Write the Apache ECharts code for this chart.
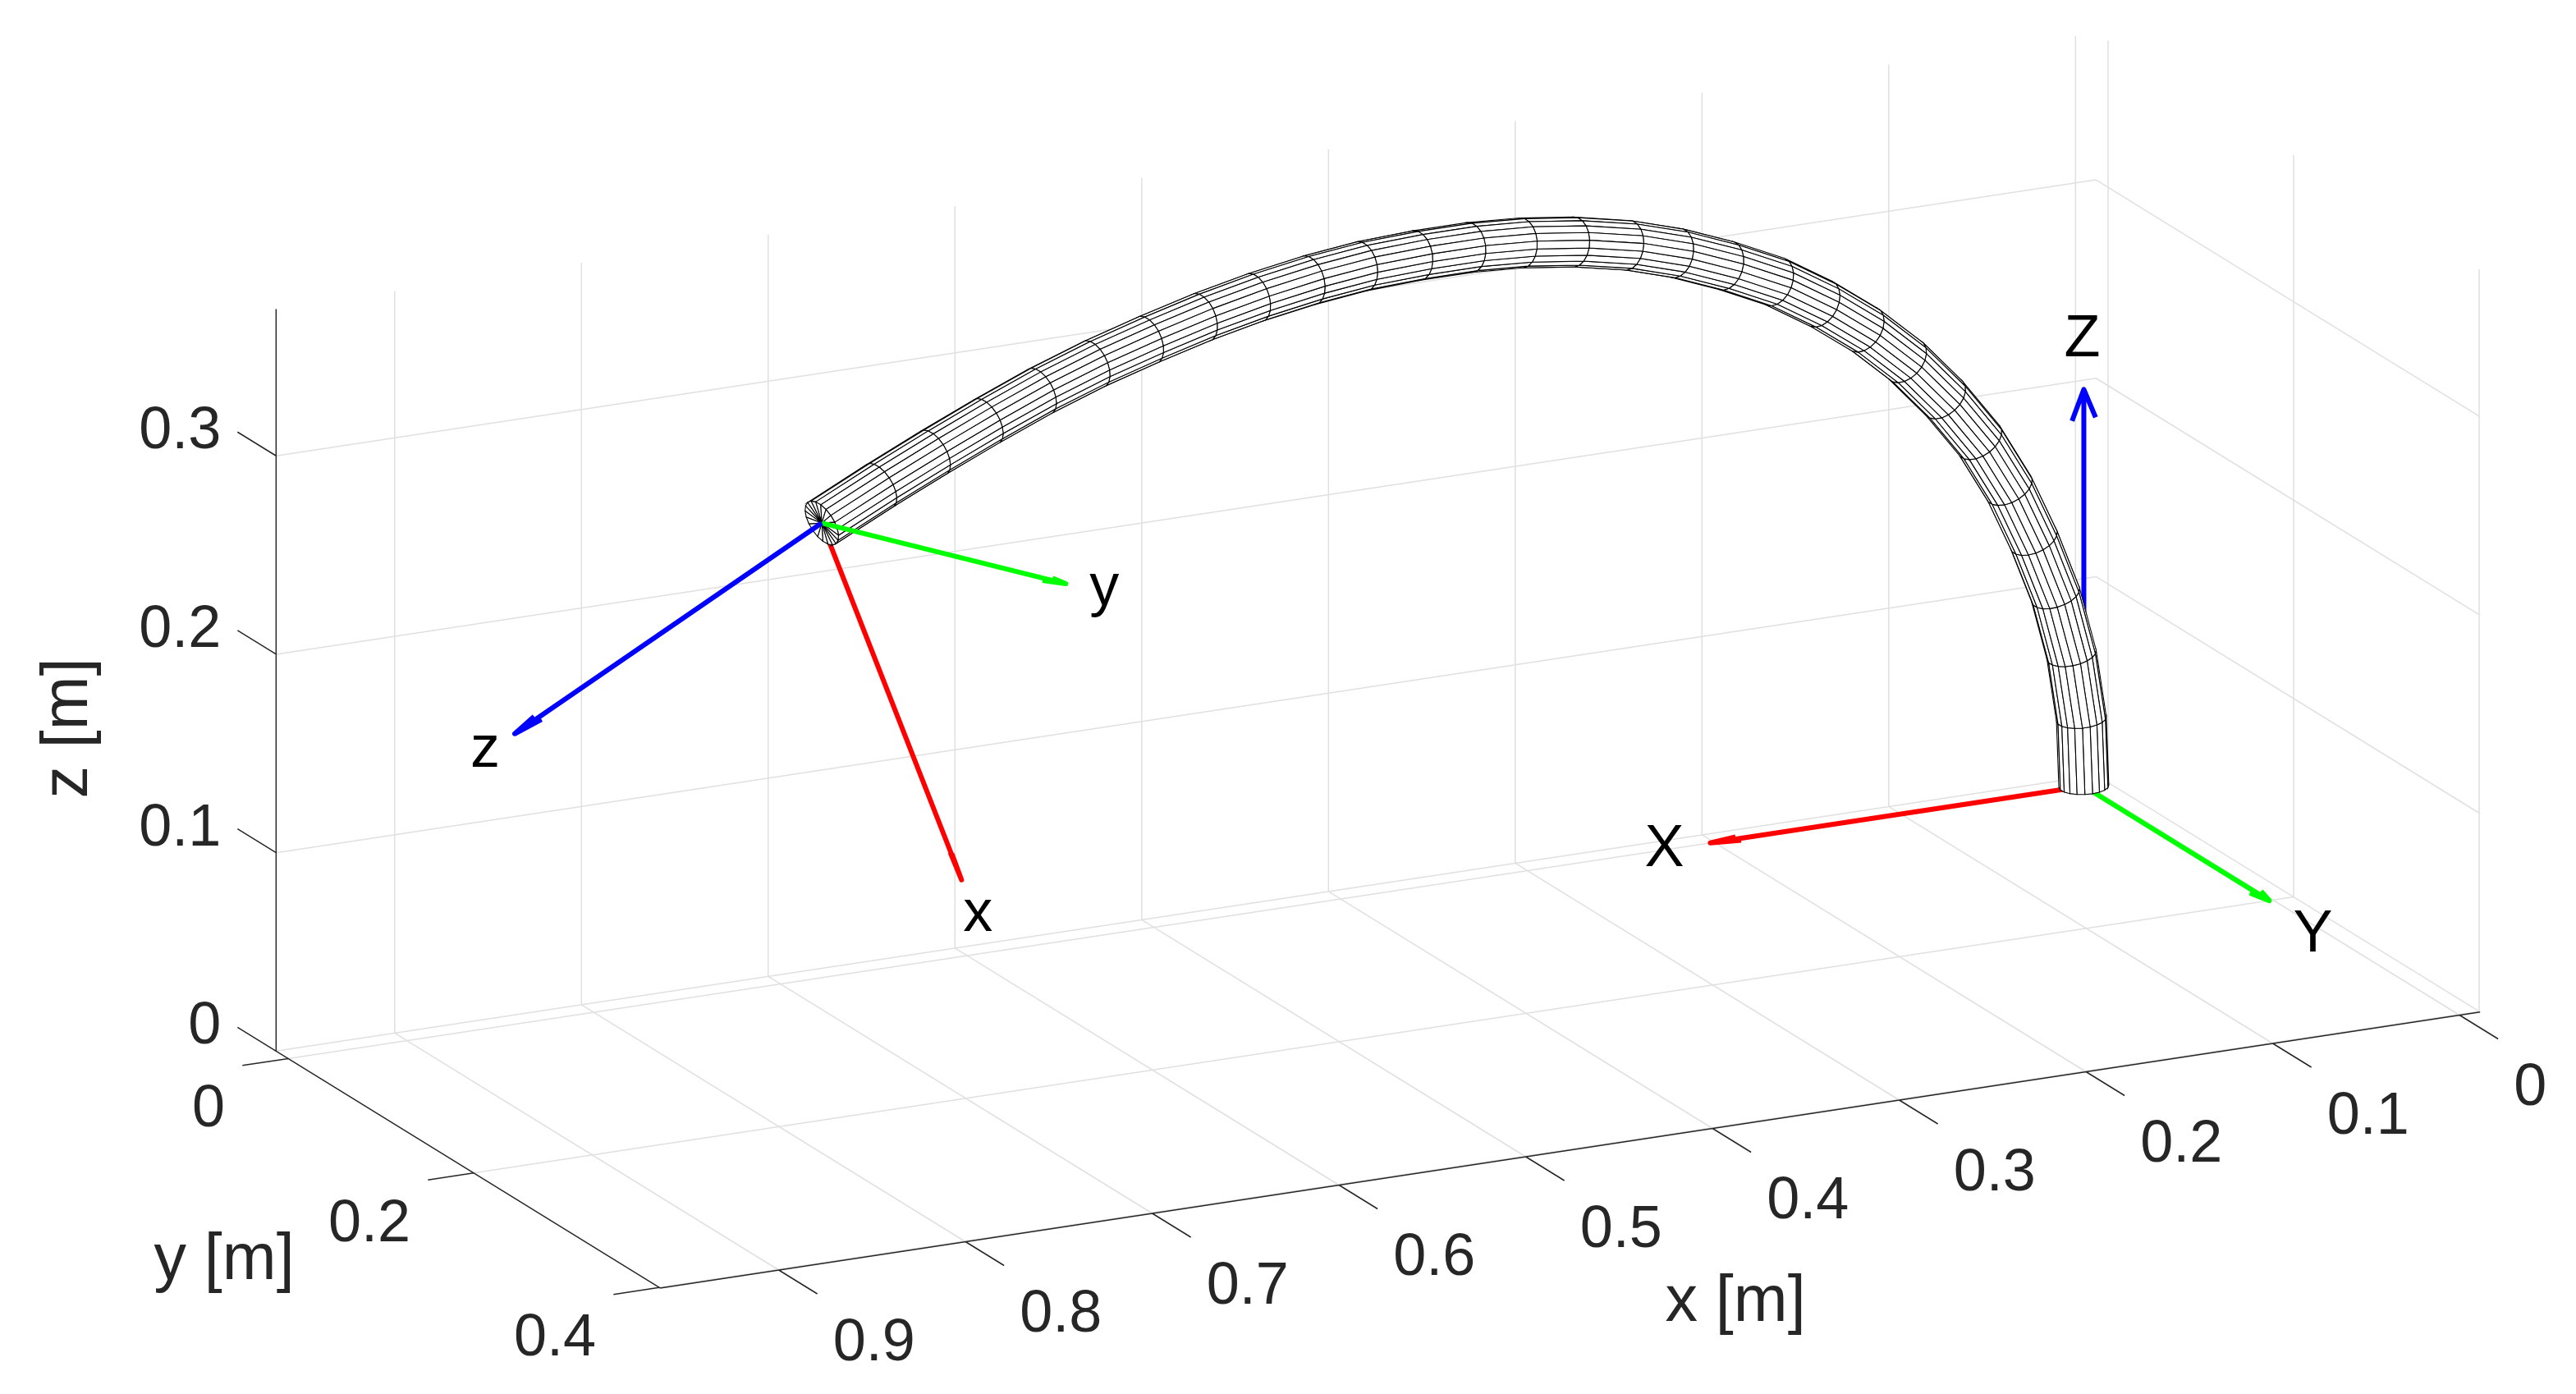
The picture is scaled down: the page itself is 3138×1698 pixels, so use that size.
<!DOCTYPE html>
<html>
<head>
<meta charset="utf-8">
<style>html,body{margin:0;padding:0;background:#fff}#chart{width:3138px;height:1698px}</style>
<script src="https://cdn.jsdelivr.net/npm/echarts@6/dist/echarts.min.js"></script>
</head>
<body>
<div id="chart"></div>
<script>
// axis limits and ticks, metres
var xLim = [-0.011, 0.9635];
var yLim = [-0.013, 0.401];
var zLim = [0, 0.374];
var xTicks = [0, 0.1, 0.2, 0.3, 0.4, 0.5, 0.6, 0.7, 0.8, 0.9];
var yTicks = [0, 0.2, 0.4];
var zTicks = [0, 0.1, 0.2, 0.3];

// tube centre line, one value per ring: distance along the bending plane and height
var tubeS = [0, 0.0015, 0.0075, 0.0173, 0.0307, 0.0457, 0.0638, 0.0854, 0.1088, 0.1342,
    0.1608, 0.1887, 0.2188, 0.2492, 0.2794, 0.3123, 0.3442, 0.3756, 0.4080, 0.4417,
    0.4739, 0.5073, 0.5399, 0.5729, 0.6058, 0.6387, 0.6714, 0.7038, 0.7367, 0.7724];
var tubeZ = [0, 0.0342, 0.0677, 0.0999, 0.1304, 0.1593, 0.1869, 0.2125, 0.2360, 0.2570,
    0.2753, 0.2919, 0.3060, 0.3184, 0.3284, 0.3366, 0.3425, 0.3465, 0.3489, 0.3502,
    0.3496, 0.3475, 0.3441, 0.3393, 0.3337, 0.3266, 0.3180, 0.3087, 0.2986, 0.2868];
var bendAngle = 12;
var tubeRadius = 0.012;
var tubeSides = 20;

// coordinate frames: origin and the three arrows
var baseOrigin = [0.002, 0, 0];
var baseX = [0.2, 0, 0];
var baseY = [0, 0.2, 0];
var baseZ = [0, 0, 0.2];
var tipX = [-0.0719, 0.0059, -0.1884];
var tipY = [-0.0335, 0.1956, 0.021];
var tipZ = [0.1837, 0.0388, -0.0688];

var textColor = '#262626';
var tickFont = 72;
var titleFont = 79;

// fixed view of the 3d axes, no perspective
function project(x, y, z) {
    return [2543 - 2275 * x + 1130 * y, 957 + 345 * x + 697 * y - 2417 * z];
}
var camera = [0.4235, 0.8526, 0.3062];

function segments(list) {
    var out = [];
    list.forEach(function (s) {
        out.push(project(s[0], s[1], s[2]));
        out.push(project(s[3], s[4], s[5]));
        out.push(['-', '-']);
    });
    return out;
}

// grid on floor and the two back walls
var gridSegs = [];
xTicks.forEach(function (x) {
    gridSegs.push([x, yLim[0], 0, x, yLim[1], 0]);
    gridSegs.push([x, yLim[0], 0, x, yLim[0], zLim[1]]);
});
yTicks.forEach(function (y) {
    gridSegs.push([xLim[0], y, 0, xLim[1], y, 0]);
    gridSegs.push([xLim[0], y, 0, xLim[0], y, zLim[1]]);
});
zTicks.forEach(function (z) {
    gridSegs.push([xLim[0], yLim[0], z, xLim[1], yLim[0], z]);
    gridSegs.push([xLim[0], yLim[0], z, xLim[0], yLim[1], z]);
});

// axis lines and tick marks
var axisSegs = [
    [xLim[0], yLim[1], 0, xLim[1], yLim[1], 0],
    [xLim[1], yLim[0], 0, xLim[1], yLim[1], 0],
    [xLim[1], yLim[0], 0, xLim[1], yLim[0], zLim[1]]
];
xTicks.forEach(function (x) { axisSegs.push([x, yLim[1], 0, x, yLim[1] + 0.0416, 0]); });
yTicks.forEach(function (y) { axisSegs.push([xLim[1], y, 0, xLim[1] + 0.0245, y, 0]); });
zTicks.forEach(function (z) { axisSegs.push([xLim[1], yLim[0], z, xLim[1], yLim[0] - 0.0416, z]); });

// rings of the tube in 3d
var cosB = Math.cos(bendAngle * Math.PI / 180);
var sinB = Math.sin(bendAngle * Math.PI / 180);
var centres = tubeS.map(function (s, i) {
    return [baseOrigin[0] + s * cosB, baseOrigin[1] + s * sinB, tubeZ[i]];
});
var rings = tubeS.map(function (s, i) {
    var a = Math.max(i - 1, 0), b = Math.min(i + 1, tubeS.length - 1);
    var ts = tubeS[b] - tubeS[a], tz = tubeZ[b] - tubeZ[a];
    var len = Math.sqrt(ts * ts + tz * tz);
    ts /= len; tz /= len;
    var ring = [];
    for (var k = 0; k < tubeSides; k++) {
        var t = 2 * Math.PI * k / tubeSides;
        var u = Math.cos(t) * tubeRadius, v = Math.sin(t) * tubeRadius;
        ring.push([
            centres[i][0] - u * tz * cosB - v * sinB,
            centres[i][1] - u * tz * sinB + v * cosB,
            centres[i][2] + u * ts
        ]);
    }
    return ring;
});

function depth(p) {
    return p[0] * camera[0] + p[1] * camera[1] + p[2] * camera[2];
}

// faces looking at the camera, far ones first
var faces = [];
for (var i = 0; i < rings.length - 1; i++) {
    for (var k = 0; k < tubeSides; k++) {
        var n = (k + 1) % tubeSides;
        var c = [rings[i][k], rings[i][n], rings[i + 1][n], rings[i + 1][k]];
        var mid = [0, 1, 2].map(function (d) {
            return (c[0][d] + c[1][d] + c[2][d] + c[3][d]) / 4;
        });
        var axisMid = [0, 1, 2].map(function (d) {
            return (centres[i][d] + centres[i + 1][d]) / 2;
        });
        var facing = (mid[0] - axisMid[0]) * camera[0] + (mid[1] - axisMid[1]) * camera[1] + (mid[2] - axisMid[2]) * camera[2];
        if (facing > -0.001) {
            faces.push({ d: depth(mid), pts: c });
        }
    }
}
faces.sort(function (a, b) { return a.d - b.d; });
var last = rings.length - 1;
rings[last].forEach(function (p, k) {
    faces.push({ d: 0, pts: [centres[last], p, rings[last][(k + 1) % tubeSides]] });
});
var facePoints = faces.map(function (f) {
    return f.pts.map(function (p) { return project(p[0], p[1], p[2]); });
});

// shaft and head of one arrow
function arrow(o, v) {
    var tip = [o[0] + v[0], o[1] + v[1], o[2] + v[2]];
    var px = v[1], py = -v[0];
    if (Math.abs(px) + Math.abs(py) < 1e-6) { px = 0.42; py = 0; }
    var al = 0.075, be = 0.2;
    var b1 = [tip[0] - al * v[0] + al * be * px, tip[1] - al * v[1] + al * be * py, tip[2] - al * v[2]];
    var b2 = [tip[0] - al * v[0] - al * be * px, tip[1] - al * v[1] - al * be * py, tip[2] - al * v[2]];
    return [project(o[0], o[1], o[2]), project(tip[0], tip[1], tip[2]), ['-', '-'],
        project(b1[0], b1[1], b1[2]), project(tip[0], tip[1], tip[2]), project(b2[0], b2[1], b2[2])];
}

function lineSeries(data, color, width, z, join) {
    return {
        type: 'line', data: data, z: z, silent: true, symbol: 'none', showSymbol: false,
        connectNulls: false, animation: false, clip: false,
        lineStyle: { color: color, width: width, cap: 'butt', join: join || 'miter' }
    };
}

// all the texts, placed from the axis points with a pixel offset
var texts = [];
function addText(p, dx, dy, text, align, size, color, rot) {
    texts.push({ x: p[0] + dx, y: p[1] + dy, text: text, align: align, size: size, color: color, rot: rot || 0 });
}
xTicks.forEach(function (x) { addText(project(x, yLim[1], 0), 66, 90, String(x), 'left', tickFont, textColor); });
yTicks.forEach(function (y) { addText(project(xLim[1], y, 0), -77, 63, String(y), 'right', tickFont, textColor); });
zTicks.forEach(function (z) { addText(project(xLim[1], yLim[0], z), -67, -29, String(z), 'right', tickFont, textColor); });
addText([2114, 1587], 0, 0, 'x [m]', 'center', titleFont, textColor);
addText([273, 1536], 0, 0, 'y [m]', 'center', titleFont, textColor);
addText([84, 887], 0, 0, 'z [m]', 'center', titleFont, textColor, Math.PI / 2);
var tipOrigin = centres[last];
function tipEnd(v) { return project(tipOrigin[0] + v[0], tipOrigin[1] + v[1], tipOrigin[2] + v[2]); }
addText(project(baseOrigin[0] + baseX[0], 0, 0), -56, 8, 'X', 'center', tickFont, '#000');
addText(project(baseOrigin[0], baseY[1], 0), 53, 42, 'Y', 'center', tickFont, '#000');
addText(project(baseOrigin[0], 0, baseZ[2]), -2, -60, 'Z', 'center', tickFont, '#000');
addText(tipEnd(tipX), 20, 42, 'x', 'center', tickFont, '#000');
addText(tipEnd(tipY), 47, 6, 'y', 'center', tickFont, '#000');
addText(tipEnd(tipZ), -36, 20, 'z', 'center', tickFont, '#000');

var chart = echarts.init(document.getElementById('chart'));
chart.setOption({
    animation: false,
    backgroundColor: '#fff',
    grid: { left: 0, right: 0, top: 0, bottom: 0 },
    xAxis: { type: 'value', min: 0, max: 3138, show: false },
    yAxis: { type: 'value', min: 0, max: 1698, inverse: true, show: false },
    series: [
        lineSeries(segments(gridSegs), '#e0e0e0', 1.5, 1),
        lineSeries(segments(axisSegs), textColor, 1.5, 2),
        lineSeries(arrow(baseOrigin, baseX), '#ff0000', 6, 3, 'round'),
        lineSeries(arrow(baseOrigin, baseY), '#00ff00', 6, 3, 'round'),
        lineSeries(arrow(baseOrigin, baseZ), '#0000ff', 6, 3, 'round'),
        lineSeries(arrow(tipOrigin, tipX), '#ff0000', 6, 3, 'round'),
        {
            type: 'custom', z: 4, silent: true, animation: false, clip: false, progressive: 0,
            coordinateSystem: 'cartesian2d',
            encode: { x: 0, y: 1 },
            data: facePoints.map(function (f) { return f[0]; }),
            renderItem: function (params, api) {
                return {
                    type: 'polygon',
                    shape: { points: facePoints[params.dataIndex].map(function (p) { return api.coord(p); }) },
                    style: { fill: '#fff', stroke: '#000', lineWidth: 1.1 }
                };
            }
        },
        lineSeries(arrow(tipOrigin, tipY), '#00ff00', 6, 5, 'round'),
        lineSeries(arrow(tipOrigin, tipZ), '#0000ff', 6, 5, 'round'),
        {
            type: 'custom', z: 6, silent: true, animation: false, clip: false, progressive: 0,
            coordinateSystem: 'cartesian2d',
            encode: { x: 0, y: 1 },
            data: texts.map(function (t) { return [t.x, t.y]; }),
            renderItem: function (params, api) {
                var t = texts[params.dataIndex];
                var pos = api.coord([t.x, t.y]);
                return {
                    type: 'text', x: pos[0], y: pos[1], rotation: t.rot,
                    style: {
                        text: t.text, fill: t.color, align: t.align, verticalAlign: 'middle',
                        font: t.size + 'px "Liberation Sans", Arial, sans-serif'
                    }
                };
            }
        }
    ]
});
</script>
</body>
</html>
